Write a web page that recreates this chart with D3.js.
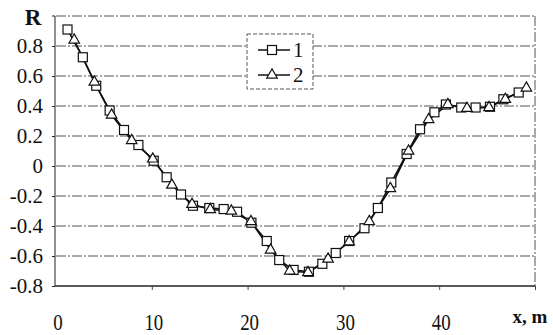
<!DOCTYPE html>
<html>
<head>
<meta charset="utf-8">
<script src="https://cdn.jsdelivr.net/npm/d3@7"></script>
<style>
  html, body { margin: 0; padding: 0; background: #fff; }
  svg { display: block; }
  text { font-family: "Liberation Serif", "DejaVu Serif", Tinos, "Times New Roman", serif; }
</style>
</head>
<body>
<svg id="chart" width="553" height="335"></svg>
<script>
// ---- data ----
const s1x = [1.2, 2.8, 4.2, 5.6, 7.1, 8.6, 10.2, 11.55, 13.05, 14.3, 16.0, 17.5, 18.9, 20.4, 22.0, 23.3, 24.8, 26.4, 27.8, 29.2, 30.6, 32.2, 33.6, 35.0, 36.6, 38.0, 39.5, 40.7, 42.3, 43.8, 45.3, 46.7, 48.3];
const s1y = [0.91, 0.725, 0.535, 0.37, 0.24, 0.14, 0.035, -0.075, -0.19, -0.265, -0.28, -0.287, -0.305, -0.378, -0.50, -0.627, -0.693, -0.705, -0.652, -0.58, -0.50, -0.415, -0.28, -0.11, 0.08, 0.245, 0.358, 0.41, 0.39, 0.39, 0.395, 0.445, 0.49];
const s2x = [1.9, 4.0, 5.8, 7.9, 10.1, 12.1, 14.2, 16.1, 18.3, 20.35, 22.4, 24.4, 26.3, 28.4, 30.6, 32.7, 34.9, 36.8, 38.9, 40.9, 42.9, 45.2, 46.9, 49.1];
const s2y = [0.84, 0.56, 0.34, 0.17, 0.047, -0.127, -0.255, -0.29, -0.30, -0.37, -0.56, -0.70, -0.71, -0.62, -0.505, -0.37, -0.15, 0.10, 0.31, 0.41, 0.385, 0.39, 0.445, 0.52];
const yTicks = [0.8, 0.6, 0.4, 0.2, 0, -0.2, -0.4, -0.6, -0.8];
const yTickLabels = ["0.8", "0.6", "0.4", "0.2", "0", "-0.2", "-0.4", "-0.6", "-0.8"];
const xTicks = [0, 10, 20, 30, 40];
const seriesNames = ["1", "2"];

// ---- chart ----
const svg = d3.select("#chart");
const x = d3.scaleLinear().domain([0, 50]).range([56, 535]);
const y = d3.scaleLinear().domain([-0.8, 1]).range([286, 16]);
const gridColor = "#555";

// gridlines (dash-dot)
svg.append("g").selectAll("line").data([1, 0.8, 0.6, 0.4, 0.2, 0, -0.2, -0.4, -0.6])
  .join("line")
  .attr("x1", x(0)).attr("x2", x(50))
  .attr("y1", d => y(d)).attr("y2", d => y(d))
  .attr("stroke", gridColor).attr("stroke-width", 1)
  .attr("stroke-dasharray", "10,2,2,2");

// right border
svg.append("line")
  .attr("x1", x(50)).attr("x2", x(50)).attr("y1", y(1)).attr("y2", y(-0.8))
  .attr("stroke", gridColor).attr("stroke-dasharray", "10,2,2,2");

// left axis
const yAxis = d3.axisLeft(y).tickValues(yTicks).tickSize(3).tickFormat("");
svg.append("g").attr("transform", `translate(${x(0) - 1},0)`).call(yAxis)
  .call(g => g.select(".domain").attr("stroke", "#222").attr("d", `M-3,${y(1)}H0V${y(-0.8)}`))
  .call(g => g.selectAll(".tick line").attr("stroke", "#222"));

// bottom axis
const xAxis = d3.axisBottom(x).tickValues([10, 20, 30, 40, 50]).tickSize(4).tickFormat("");
svg.append("g").attr("transform", `translate(0,${y(-0.8)})`).call(xAxis)
  .call(g => g.select(".domain").attr("stroke", "#222").attr("stroke-width", 1.3).attr("d", `M${x(0) - 1},0H${x(50)}`))
  .call(g => g.selectAll(".tick line").attr("stroke", "#444"));

// y tick labels
svg.append("g").selectAll("text").data(yTicks)
  .join("text")
  .attr("x", 43).attr("y", d => y(d) + 7)
  .attr("text-anchor", "end")
  .attr("font-size", 21)
  .attr("fill", "#111")
  .text((d, i) => yTickLabels[i]);

// x tick labels (slightly condensed)
svg.append("g").selectAll("text").data(xTicks)
  .join("text")
  .attr("transform", d => `translate(${x(d) + 2},330) scale(0.82,1)`)
  .attr("text-anchor", "middle")
  .attr("font-size", 23)
  .attr("fill", "#111")
  .text(d => d);

// axis titles
svg.append("text").attr("x", 33).attr("y", 25).attr("text-anchor", "middle")
  .attr("font-size", 23).attr("font-weight", "bold")
  .attr("fill", "#111").text("R");
svg.append("text").attr("x", 530).attr("y", 323).attr("text-anchor", "middle")
  .attr("font-size", 19).attr("font-weight", "bold")
  .attr("fill", "#111").text("x, m");

// lines
const line = d3.line().x(d => x(d[0])).y(d => y(d[1]));
const d1 = s1x.map((v, i) => [v, s1y[i]]);
const d2 = s2x.map((v, i) => [v, s2y[i]]);
svg.append("path").datum(d1).attr("d", line).attr("fill", "none").attr("stroke", "#111").attr("stroke-width", 1.6);
svg.append("path").datum(d2).attr("d", line).attr("fill", "none").attr("stroke", "#111").attr("stroke-width", 1.6);

// markers
const sq = 9;
svg.append("g").selectAll("rect").data(d1).join("rect")
  .attr("x", d => x(d[0]) - sq / 2).attr("y", d => y(d[1]) - sq / 2)
  .attr("width", sq).attr("height", sq)
  .attr("fill", "#fff").attr("stroke", "#111").attr("stroke-width", 1.2);
const tri = d3.symbol().type(d3.symbolTriangle).size(48);
svg.append("g").selectAll("path").data(d2).join("path")
  .attr("transform", d => `translate(${x(d[0])},${y(d[1])})`)
  .attr("d", tri)
  .attr("fill", "#fff").attr("stroke", "#111").attr("stroke-width", 1.2);

// legend
const lg = svg.append("g");
lg.append("rect").attr("x", 247).attr("y", 34).attr("width", 66).attr("height", 55)
  .attr("fill", "#fff").attr("stroke", gridColor).attr("stroke-dasharray", "4,2");
const ly = [50, 75];
ly.forEach((yy, i) => {
  lg.append("line").attr("x1", 258).attr("x2", 290).attr("y1", yy).attr("y2", yy)
    .attr("stroke", "#111").attr("stroke-width", 1.5);
  if (i === 0) {
    lg.append("rect").attr("x", 272 - sq / 2).attr("y", yy - sq / 2).attr("width", sq).attr("height", sq)
      .attr("fill", "#fff").attr("stroke", "#111").attr("stroke-width", 1.2);
  } else {
    lg.append("path").attr("transform", `translate(272,${yy})`).attr("d", tri)
      .attr("fill", "#fff").attr("stroke", "#111").attr("stroke-width", 1.2);
  }
  lg.append("text").attr("x", 293).attr("y", yy + 7)
    .attr("font-size", 21).attr("fill", "#111")
    .text(seriesNames[i]);
});
</script>
</body>
</html>
